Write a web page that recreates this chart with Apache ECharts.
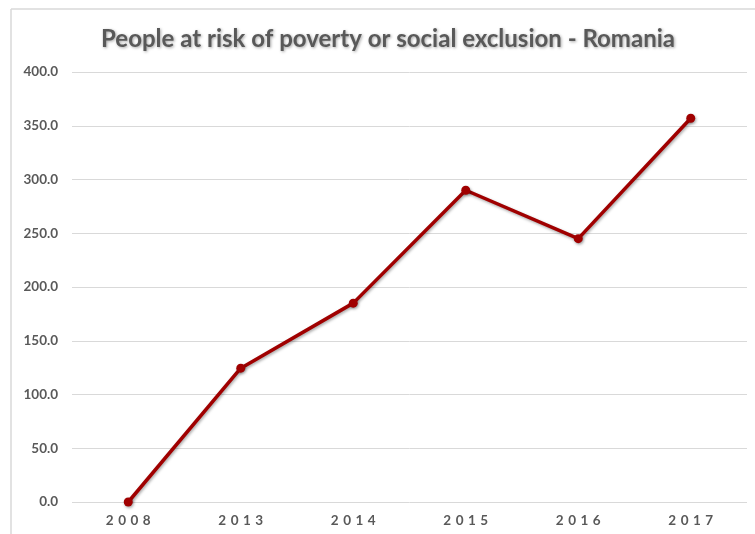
<!DOCTYPE html>
<html>
<head>
<meta charset="utf-8">
<script src="https://cdn.jsdelivr.net/npm/echarts@6/dist/echarts.min.js"></script>
<style>
html,body{margin:0;padding:0;background:#fff;}
#chart{width:755px;height:534px;}
</style>
</head>
<body>
<div id="chart"></div>
<script>
const title = "People at risk of poverty or social exclusion - Romania";
const categories = ["2008", "2013", "2014", "2015", "2016", "2017"];
const values = [0, 124.5, 185, 290, 245, 357];
const yMin = 0, yMax = 400, yStep = 50;

const chart = echarts.init(document.getElementById('chart'), null, {renderer: 'canvas'});
chart.setOption({
  animation: false,
  backgroundColor: '#ffffff',
  graphic: [
    {type: 'line', shape: {x1: 11, y1: 9, x2: 755, y2: 9}, style: {stroke: '#d9d9d9', lineWidth: 1.5}, silent: true},
    {type: 'line', shape: {x1: 11, y1: 9, x2: 11, y2: 534}, style: {stroke: '#d9d9d9', lineWidth: 1.5}, silent: true}
  ],
  title: {
    text: title,
    left: 383,
    textAlign: 'center',
    top: 22,
    textStyle: {
      fontFamily: 'Lato',
      fontSize: 24,
      fontWeight: 'bold',
      color: '#595959',
      textShadowColor: 'rgba(0,0,0,0.35)',
      textShadowBlur: 3,
      textShadowOffsetX: 1,
      textShadowOffsetY: 1.5
    }
  },
  grid: {left: 72, right: 8, top: 72, bottom: 32, containLabel: false},
  xAxis: {
    type: 'category',
    data: categories,
    boundaryGap: true,
    axisLine: {show: false},
    axisTick: {show: false},
    axisLabel: {
      margin: 12,
      fontFamily: 'Lato',
      fontSize: 13.5,
      fontWeight: 'bold',
      color: '#595959',
      formatter: v => v.split('').join('\u2004')
    }
  },
  yAxis: {
    type: 'value',
    min: yMin, max: yMax, interval: yStep,
    axisLine: {show: false},
    axisTick: {show: false},
    splitLine: {lineStyle: {color: '#d9d9d9', width: 1}},
    axisLabel: {
      margin: 14,
      fontFamily: 'Lato',
      fontSize: 13.5,
      fontWeight: 'bold',
      color: '#595959',
      formatter: v => v.toFixed(1)
    }
  },
  series: [{
    type: 'line',
    data: values,
    symbol: 'circle',
    symbolSize: 9,
    lineStyle: {color: '#a00000', width: 3.5, shadowColor: 'rgba(0,0,0,0.35)', shadowBlur: 3, shadowOffsetX: 1, shadowOffsetY: 1.5},
    itemStyle: {color: '#a00000', shadowColor: 'rgba(0,0,0,0.35)', shadowBlur: 3, shadowOffsetX: 1, shadowOffsetY: 1.5}
  }]
});
</script>
</body>
</html>
